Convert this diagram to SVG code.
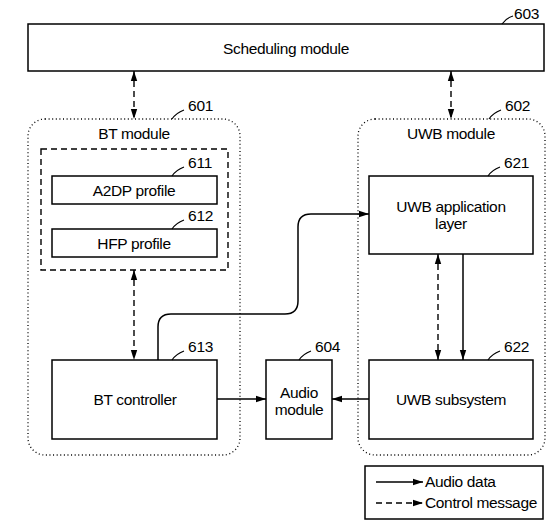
<svg xmlns="http://www.w3.org/2000/svg" width="554" height="530" viewBox="0 0 554 530">
<style>
text{font-family:"Liberation Sans",Arial,sans-serif;font-size:15.5px;letter-spacing:-0.35px;fill:#000}
.c{text-anchor:middle}
.n{font-size:15.5px;letter-spacing:-0.2px}
.box{fill:#fff;stroke:#000;stroke-width:1.5}
.dot{fill:none;stroke:#000;stroke-width:1.3;stroke-dasharray:1 2.6}
.dash{fill:none;stroke:#000;stroke-width:1.4;stroke-dasharray:6 4}
.ln{fill:none;stroke:#000;stroke-width:1.5}
.ld{fill:none;stroke:#000;stroke-width:1.2}
</style>
<defs>
<marker id="ah" viewBox="0 0 10 8" refX="10" refY="4" markerWidth="10" markerHeight="8" markerUnits="userSpaceOnUse" orient="auto-start-reverse">
<path d="M0,0.8 L10,4 L0,7.2 Z" fill="#000"/>
</marker>
</defs>
<g id="modules">
<rect id="bt-module" class="dot" x="28" y="119" width="212" height="336" rx="17"/>
<rect id="uwb-module" class="dot" x="358" y="119" width="187" height="336" rx="17"/>
<rect id="profiles" class="dash" x="41" y="149" width="187" height="121" stroke-dasharray="5 3"/>
<text class="c" x="134" y="139">BT module</text>
<text class="c" x="451" y="139">UWB module</text>
</g>
<g id="scheduling">
<rect class="box" x="28" y="24" width="516" height="47"/>
<text class="c" x="286" y="54">Scheduling module</text>
</g>
<g id="a2dp">
<rect class="box" x="52" y="176" width="165" height="28"/>
<text class="c" x="134" y="196">A2DP profile</text>
</g>
<g id="hfp">
<rect class="box" x="52" y="229" width="165" height="28"/>
<text class="c" x="134" y="249">HFP profile</text>
</g>
<g id="bt-controller">
<rect class="box" x="52" y="360" width="165" height="79"/>
<text class="c" x="135" y="405">BT controller</text>
</g>
<g id="audio-module">
<rect class="box" x="266" y="360" width="66" height="79"/>
<text class="c" x="299" y="398">Audio</text>
<text class="c" x="299" y="415">module</text>
</g>
<g id="uwb-app">
<rect class="box" x="369" y="176" width="164" height="78"/>
<text class="c" x="451" y="212">UWB application</text>
<text class="c" x="451" y="229">layer</text>
</g>
<g id="uwb-subsystem">
<rect class="box" x="369" y="360" width="164" height="79"/>
<text class="c" x="451" y="405">UWB subsystem</text>
</g>
<g id="labels">
<path class="ld" d="M502,24 q4,-6 11,-8"/><text class="n" x="514" y="19">603</text>
<path class="ld" d="M172,119 q4,-6 12,-9"/><text class="n" x="188" y="111">601</text>
<path class="ld" d="M489,119 q4,-6 12,-9"/><text class="n" x="505" y="111">602</text>
<path class="ld" d="M172,176 q4,-6 12,-9"/><text class="n" x="188" y="168">611</text>
<path class="ld" d="M172,229 q4,-6 12,-9"/><text class="n" x="188" y="221">612</text>
<path class="ld" d="M488,176 q4,-6 12,-9"/><text class="n" x="504" y="168">621</text>
<path class="ld" d="M172,360 q4,-6 12,-9"/><text class="n" x="188" y="352">613</text>
<path class="ld" d="M299,360 q4,-6 12,-9"/><text class="n" x="315" y="352">604</text>
<path class="ld" d="M488,360 q4,-6 12,-9"/><text class="n" x="504" y="352">622</text>
</g>
<g id="connectors">
<line class="dash" x1="134" y1="71" x2="134" y2="119" marker-start="url(#ah)" marker-end="url(#ah)"/>
<line class="dash" x1="451" y1="71" x2="451" y2="119" marker-start="url(#ah)" marker-end="url(#ah)"/>
<line class="dash" x1="134" y1="270" x2="134" y2="360" marker-start="url(#ah)" marker-end="url(#ah)"/>
<line class="dash" x1="438" y1="254" x2="438" y2="360" marker-start="url(#ah)" marker-end="url(#ah)"/>
<line class="ln" x1="463" y1="254" x2="463" y2="360" marker-end="url(#ah)"/>
<line class="ln" x1="217" y1="399" x2="266" y2="399" marker-end="url(#ah)"/>
<line class="ln" x1="369" y1="399" x2="332" y2="399" marker-end="url(#ah)"/>
<path class="ln" d="M158,360 V327 Q158,314 171,314 H285 Q298,314 298,301 V227 Q298,214 311,214 H369" marker-end="url(#ah)"/>
</g>
<g id="legend">
<rect x="365" y="466" width="178" height="53" fill="none" stroke="#000" stroke-width="1.5"/>
<line class="ln" x1="376" y1="482" x2="423" y2="482" marker-end="url(#ah)"/>
<line class="dash" x1="376" y1="503" x2="423" y2="503" stroke-dasharray="5 3.5" marker-end="url(#ah)"/>
<text x="425" y="487">Audio data</text>
<text x="425" y="508">Control message</text>
</g>
</svg>
